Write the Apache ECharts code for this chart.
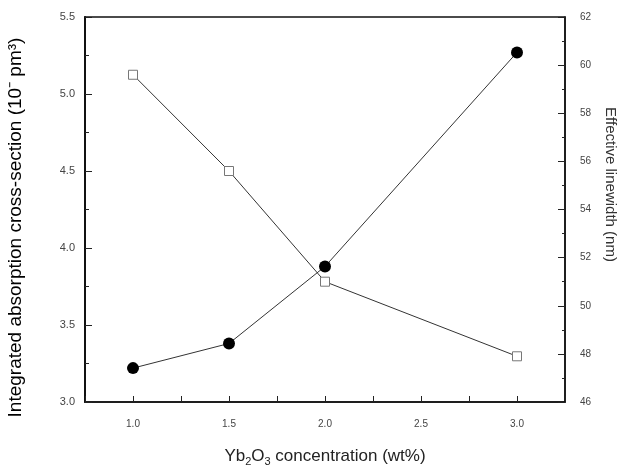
<!DOCTYPE html>
<html>
<head>
<meta charset="utf-8">
<script src="https://cdn.jsdelivr.net/npm/echarts@6/dist/echarts.min.js"></script>
<style>
  html, body { margin: 0; padding: 0; background: #fff; }
  #main { width: 628px; height: 470px; }
</style>
</head>
<body>
<div id="main"></div>
<script>
// data
var concentration = [1.0, 1.5, 2.0, 3.0];          // Yb2O3 wt%
var crossSection = [3.22, 3.38, 3.88, 5.27];       // left axis
var linewidth = [59.6, 55.6, 51.0, 47.9];          // right axis, nm
var xTickLabels = ['1.0', '1.5', '2.0', '2.5', '3.0'];

var chart = echarts.init(document.getElementById('main'));

function pairs(xs, ys) {
    return xs.map(function (x, i) { return [x, ys[i]]; });
}

var option = {
    animation: false,
    grid: {
        left: 85,
        right: 63,
        top: 17,
        bottom: 68,
        outerBoundsMode: 'none',
        show: true,
        borderColor: '#111',
        borderWidth: 1.5
    },
    xAxis: {
        type: 'value',
        min: 0.75,
        max: 3.25,
        interval: 0.25,
        name: '{n|Yb}{s|2}{n|O}{s|3}{n| concentration (wt%)}',
        nameLocation: 'middle',
        nameGap: 44,
        nameTextStyle: {
            rich: {
                n: { fontFamily: 'Liberation Sans', fontSize: 17, color: '#222' },
                s: { fontFamily: 'Liberation Sans', fontSize: 11, color: '#222', padding: [10, 0, 0, 0] }
            }
        },
        axisLine: { lineStyle: { color: '#111', width: 1.5 } },
        axisTick: { inside: true, length: 6, lineStyle: { color: '#222' } },
        splitLine: { show: false },
        axisLabel: {
            margin: 17,
            fontFamily: 'Liberation Sans',
            fontSize: 10,
            color: '#444',
            formatter: function (v) {
                var s = v.toFixed(1);
                return xTickLabels.indexOf(s) >= 0 && Math.abs(v * 2 - Math.round(v * 2)) < 1e-6 ? s : '';
            }
        }
    },
    yAxis: [{
        type: 'value',
        min: 3.0,
        max: 5.5,
        interval: 0.5,
        position: 'left',
        name: 'Integrated absorption cross-section (10⁻ pm³)',
        nameLocation: 'middle',
        nameGap: 60,
        nameTextStyle: {
            fontFamily: 'Liberation Sans',
            fontSize: 19,
            color: '#000',
            padding: [0, 36, 0, 0]
        },
        axisLine: { show: true, lineStyle: { color: '#111', width: 2 } },
        axisTick: { inside: true, length: 7, lineStyle: { color: '#222' } },
        minorTick: { show: true, splitNumber: 2, length: 4, lineStyle: { color: '#222' } },
        splitLine: { show: false },
        axisLabel: {
            margin: 10,
            fontFamily: 'Liberation Sans',
            fontSize: 11,
            color: '#444',
            formatter: function (v) { return v.toFixed(1); }
        }
    }, {
        type: 'value',
        min: 46,
        max: 62,
        interval: 2,
        position: 'right',
        name: 'Effective linewidth (nm)',
        nameLocation: 'middle',
        nameRotate: -90,
        nameGap: 38,
        nameTextStyle: {
            fontFamily: 'Liberation Sans',
            fontSize: 15,
            color: '#333',
            padding: [0, 50, 0, 0]
        },
        axisLine: { show: true, lineStyle: { color: '#111', width: 1.5 } },
        axisTick: { inside: true, length: 7, lineStyle: { color: '#222' } },
        minorTick: { show: true, splitNumber: 2, length: 3, lineStyle: { color: '#222' } },
        splitLine: { show: false },
        axisLabel: {
            margin: 15,
            fontFamily: 'Liberation Sans',
            fontSize: 10,
            color: '#444'
        }
    }],
    series: [{
        name: 'cross-section',
        type: 'line',
        yAxisIndex: 0,
        data: pairs(concentration, crossSection),
        symbol: 'circle',
        symbolSize: 12,
        itemStyle: { color: '#000' },
        lineStyle: { color: '#333', width: 1 },
        z: 3
    }, {
        name: 'linewidth',
        type: 'line',
        yAxisIndex: 1,
        data: pairs(concentration, linewidth),
        symbol: 'rect',
        symbolSize: 9,
        itemStyle: { color: '#fff', borderColor: '#777', borderWidth: 1 },
        lineStyle: { color: '#333', width: 1 },
        z: 2
    }]
};

chart.setOption(option);
</script>
</body>
</html>
